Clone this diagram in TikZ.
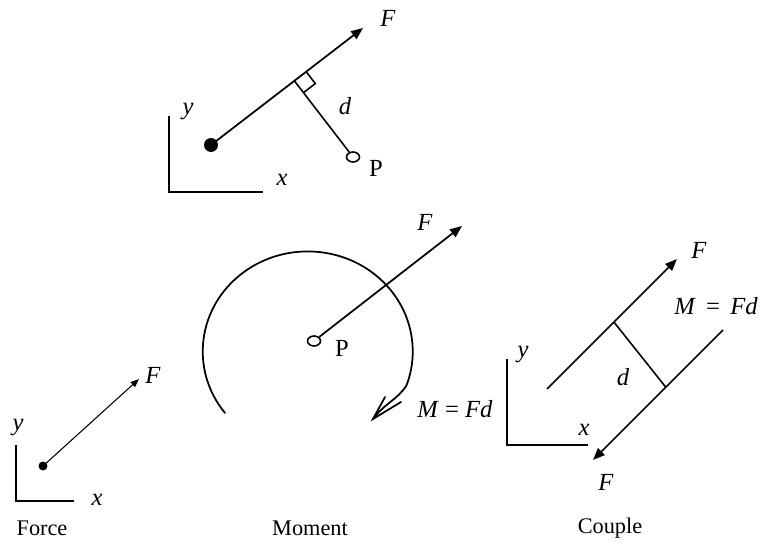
\documentclass[tikz,border=0pt]{standalone}
\usepackage{fontspec}
\setmainfont{Liberation Serif}
\usetikzlibrary{arrows.meta,positioning,calc,shapes.geometric}
\tikzset{axisline/.style={line width=0.9pt},
 forcearrow/.style={-{Triangle[length=2.4mm,width=1.9mm]},line width=1pt},
 thinarrow/.style={-{Triangle[length=1.7mm,width=1.3mm]},line width=0.6pt},
 momentline/.style={line width=1pt,line cap=round},
 armline/.style={line width=0.9pt},
 bigdot/.style={circle,fill,inner sep=0pt,minimum size=2.8mm},
 smalldot/.style={circle,fill,inner sep=0pt,minimum size=1.8mm},
 pivot/.style={ellipse,draw,line width=0.9pt,inner sep=0pt,minimum width=2.6mm,minimum height=2mm},
 lbl/.style={font=\fontsize{14}{16}\selectfont,inner sep=1pt},
 sym/.style={font=\fontsize{14}{16}\selectfont\itshape,inner sep=1pt},
 caption/.style={font=\fontsize{12.7}{15}\selectfont,inner sep=1pt}}

\begin{document}
\begin{tikzpicture}[x=0.02cm,y=-0.02cm]
\useasboundingbox (0,0) rectangle (761,550);
% force
\node[smalldot] (f0) at (43,466) {};
\coordinate (f1) at (139,379);
\coordinate (fo) at (16,501);\coordinate (fy) at (16,445);\coordinate (fx) at (74,501);
\draw[thinarrow] (f0.center)--(f1);
\draw[line width=0.7pt] (fy)--(fo)--(fx);
\node[sym] (fF) at (153,375) {F};
\node[sym] (fyl) at (18,428) {y};
\node[sym] (fxl) at (97,500) {x};
\node[caption] (fcap) at (42,528) {Force};
% moment about P
\node[bigdot] (t0) at (211,145) {};
\coordinate (t1) at (363,28);
\node[pivot] (tP) at (353,157) {};
\coordinate (tk) at ($(t0)!(tP)!(t1)$);
\coordinate (tk1) at ($(tk)!8.5pt!(t1)$);\coordinate (tk2) at ($(tk)!8.5pt!(tP)$);
\draw[forcearrow] (t0.center)--(t1);
\draw[armline] (tk1)--($(tk1)+(tk2)-(tk)$)--(tk2);\draw[armline] (tk)--(tP);
\coordinate (to) at (169,192);\coordinate (ty) at (169,116);\coordinate (tx) at (263,192);
\draw[axisline] (ty)--(to)--(tx);
\node[sym] (tF) at (388,18) {F};
\node[sym] (td) at (345,106) {d};
\node[lbl] (tPl) at (376,168) {P};
\node[sym] (tyl) at (188,112) {y};
\node[sym] (txl) at (282,180) {x};
% moment
\node[pivot] (mP) at (314,341) {};
\coordinate (m1) at (462,226);
\coordinate (m0) at (225,413);
\coordinate (m2) at (373,419);
\coordinate (b1) at (385,397);\coordinate (b2) at (401,402);
\draw[forcearrow] (mP)--(m1);
\draw[momentline] (m0) arc[start angle=142,end angle=380,x radius=105,y radius=100]
  .. controls (397,400) and (385,403) .. (m2);
\draw[momentline] (b1)--(m2)--(b2);
\node[sym] (mF) at (425,222) {F};
\node[lbl] (mPl) at (342,348) {P};
\node[lbl] (mM) at (455,409) {\textit{M} = \textit{Fd}};
\node[caption] (mcap) at (310,528) {Moment};
% couple
\coordinate (u1) at (547,389);\coordinate (u2) at (677,259);
\coordinate (l1) at (723,330);\coordinate (l2) at (593,460);
\draw[forcearrow] (u1)--(u2);\draw[forcearrow] (l1)--(l2);
\draw[armline] ($(u1)!0.515!(u2)$)--($(l1)!0.44!(l2)$);
\coordinate (co) at (507,445);\coordinate (cy) at (507,359);\coordinate (cx) at (588,445);
\draw[axisline] (cy)--(co)--(cx);
\node[sym] (cF1) at (699,250) {F};
\node[sym] (cF2) at (606,482) {F};
\node[sym] (cd) at (623,377) {d};
\node[lbl] (cM) at (716,306) {\textit{M}\, =\, \textit{Fd}};
\node[sym] (cyl) at (523,355) {y};
\node[sym] (cxl) at (584,430) {x};
\node[caption] (ccap) at (610,528) {Couple};
\end{tikzpicture}
\end{document}
